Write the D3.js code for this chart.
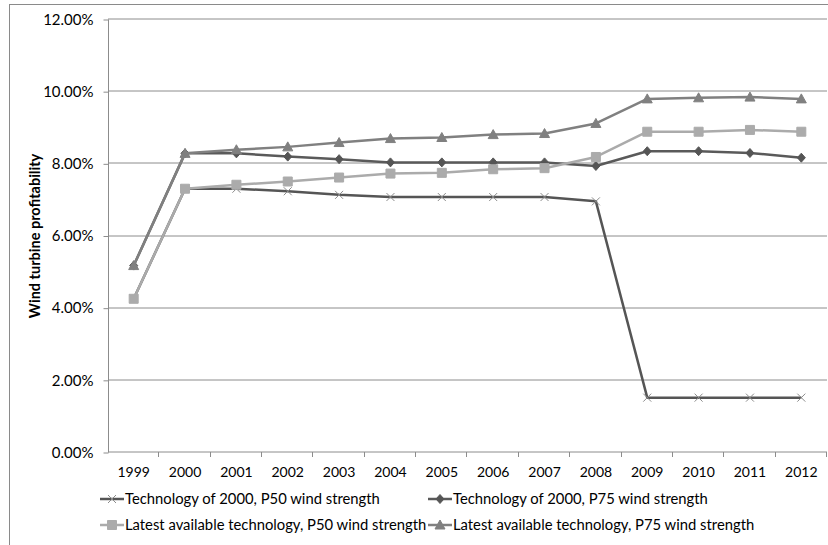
<!DOCTYPE html>
<meta charset='utf-8'>
<style>
    body {
        margin: 0;
        background: white;
    }
    text {
        font-family: Lato, 'Open Sans', sans-serif;
        fill: #000;
    }
</style>
<body>
<div id='chart'></div>
<script src='https://d3js.org/d3.v7.min.js'></script>
<script>
    // Data (profitability in %)
    const years = [ '1999', '2000', '2001', '2002', '2003', '2004', '2005', '2006', '2007', '2008', '2009', '2010', '2011', '2012' ];
    const tech2000P50 = [ 4.26, 7.31, 7.31, 7.24, 7.14, 7.08, 7.08, 7.08, 7.08, 6.96, 1.52, 1.52, 1.52, 1.52 ];
    const tech2000P75 = [ 5.18, 8.29, 8.29, 8.20, 8.13, 8.04, 8.04, 8.04, 8.04, 7.94, 8.35, 8.35, 8.30, 8.17 ];
    const latestP50 = [ 4.26, 7.31, 7.42, 7.51, 7.62, 7.73, 7.75, 7.85, 7.88, 8.19, 8.89, 8.89, 8.94, 8.89 ];
    const latestP75 = [ 5.18, 8.29, 8.39, 8.47, 8.59, 8.70, 8.73, 8.81, 8.84, 9.12, 9.80, 9.83, 9.85, 9.80 ];
    const yTicks = [ 0, 2, 4, 6, 8, 10, 12 ];

    const seriesNames = [
        'Technology of 2000, P50 wind strength',
        'Technology of 2000, P75 wind strength',
        'Latest available technology, P50 wind strength',
        'Latest available technology, P75 wind strength',
    ];

    const series = [
        { name: seriesNames[0], values: tech2000P50, line: '#555555', marker: 'x', fill: 'none', stroke: '#8c8c8c' },
        { name: seriesNames[1], values: tech2000P75, line: '#5a5a5a', marker: 'diamond', fill: '#555555', stroke: '#555555' },
        { name: seriesNames[2], values: latestP50, line: '#ababab', marker: 'square', fill: '#ababab', stroke: '#ababab' },
        { name: seriesNames[3], values: latestP75, line: '#808080', marker: 'triangle', fill: '#808080', stroke: '#808080' },
    ];

    const W = 828, H = 545;
    const margin = { top: 19.5, left: 108, right: 1, bottom: 92.5 };
    const width = W - margin.left - margin.right,
        height = H - margin.top - margin.bottom;

    const svg = d3.select( '#chart' )
        .append( 'svg' )
        .attr( 'width', W )
        .attr( 'height', H );

    // Outer chart frame (right/bottom edges run off the picture)
    svg.append( 'rect' )
        .attr( 'x', 9.5 )
        .attr( 'y', 4.5 )
        .attr( 'width', W + 20 )
        .attr( 'height', H + 20 )
        .style( 'fill', 'none' )
        .style( 'stroke', '#8a8a8a' );

    const g = svg.append( 'g' )
        .attr( 'transform', `translate( ${margin.left}, ${margin.top} )` );

    const xScale = d3.scaleBand()
        .domain( years )
        .range( [0, width] );

    const yScale = d3.scaleLinear()
        .domain( [0, 12] )
        .range( [height, 0] );

    // Horizontal gridlines
    g.append( 'g' )
        .selectAll( 'line' )
        .data( yTicks.filter( d => d > 0 ) )
        .enter().append( 'line' )
            .attr( 'x1', 0 )
            .attr( 'x2', width )
            .attr( 'y1', d => Math.round( yScale( d ) ) - 0.5 )
            .attr( 'y2', d => Math.round( yScale( d ) ) - 0.5 )
            .style( 'stroke', '#8c8c8c' );

    // Y axis
    const yAxis = d3.axisLeft( yScale )
        .tickValues( yTicks )
        .tickSize( 5 )
        .tickPadding( 10 )
        .tickFormat( d => d.toFixed( 2 ) + '%' );

    const yAxisEl = g.append( 'g' )
        .attr( 'transform', 'translate( 0.5, 0 )' )
        .call( yAxis );
    yAxisEl.select( '.domain' ).attr( 'd', `M0,0V${height}` );

    // X axis: ticks sit on the category boundaries
    const xAxisEl = g.append( 'g' )
        .attr( 'transform', `translate( 0, ${Math.round( height ) - 0.5} )` );

    xAxisEl.append( 'line' )
        .attr( 'x1', 0 )
        .attr( 'x2', width )
        .style( 'stroke', '#8c8c8c' );

    xAxisEl.selectAll( '.tick-mark' )
        .data( years )
        .enter().append( 'line' )
            .attr( 'class', 'tick-mark' )
            .attr( 'x1', d => Math.round( xScale( d ) + xScale.bandwidth() ) - 0.5 )
            .attr( 'x2', d => Math.round( xScale( d ) + xScale.bandwidth() ) - 0.5 )
            .attr( 'y1', 0 )
            .attr( 'y2', 5 )
            .style( 'stroke', '#8c8c8c' );

    xAxisEl.selectAll( '.year' )
        .data( years )
        .enter().append( 'text' )
            .attr( 'class', 'year' )
            .attr( 'x', d => xScale( d ) + xScale.bandwidth() / 2 )
            .attr( 'y', 25 )
            .attr( 'text-anchor', 'middle' )
            .style( 'font-size', '14px' )
            .text( d => d );

    g.selectAll( '.tick text' ).style( 'font-size', '15px' );
    g.selectAll( '.tick line, .domain' ).style( 'stroke', '#8c8c8c' );

    // Axis title
    svg.append( 'text' )
        .attr( 'transform', `translate( 40, ${margin.top + height / 2} ) rotate( -90 )` )
        .attr( 'text-anchor', 'middle' )
        .style( 'font-size', '14.5px' )
        .style( 'font-weight', 'bold' )
        .text( 'Wind turbine profitability' );

    // Marker shapes
    const markerPath = ( type ) => {
        if ( type === 'x' ) return 'M-4,-4L4,4M-4,4L4,-4';
        if ( type === 'diamond' ) return 'M0,-4.5L4,0L0,4.5L-4,0Z';
        if ( type === 'square' ) return 'M-4.5,-4.5H4.5V4.5H-4.5Z';
        return 'M0,-5L5,4H-5Z';
    };

    const line = d3.line()
        .x( ( d, i ) => xScale( years[ i ] ) + xScale.bandwidth() / 2 )
        .y( d => yScale( d ) );

    const lines = g.selectAll( '.series' )
        .data( series )
        .enter().append( 'g' )
            .attr( 'class', 'series' );

    lines.append( 'path' )
        .attr( 'd', d => line( d.values ) )
        .style( 'fill', 'none' )
        .style( 'stroke', d => d.line )
        .style( 'stroke-width', 2.5 )
        .style( 'stroke-linejoin', 'round' );

    lines.each( function( s ) {
        d3.select( this ).selectAll( '.marker' )
            .data( s.values )
            .enter().append( 'path' )
                .attr( 'class', 'marker' )
                .attr( 'transform', ( d, i ) => `translate( ${xScale( years[ i ] ) + xScale.bandwidth() / 2}, ${yScale( d )} )` )
                .attr( 'd', markerPath( s.marker ) )
                .style( 'fill', s.fill )
                .style( 'stroke', s.stroke )
                .style( 'stroke-width', 1 );
    } );

    // Legend: two columns, two rows
    const legendPos = [
        { x: 100, y: 499 },
        { x: 428, y: 499 },
        { x: 100, y: 525 },
        { x: 428, y: 525 },
    ];

    const legend = svg.selectAll( '.legend' )
        .data( series )
        .enter().append( 'g' )
            .attr( 'class', 'legend' )
            .attr( 'transform', ( d, i ) => `translate( ${legendPos[ i ].x}, ${legendPos[ i ].y} )` );

    legend.append( 'line' )
        .attr( 'x1', 0 )
        .attr( 'x2', 24 )
        .style( 'stroke', d => d.line )
        .style( 'stroke-width', 2.5 );

    legend.append( 'path' )
        .attr( 'transform', 'translate( 12, 0 )' )
        .attr( 'd', d => markerPath( d.marker ) )
        .style( 'fill', d => d.fill )
        .style( 'stroke', d => d.stroke );

    legend.append( 'text' )
        .attr( 'x', 25 )
        .attr( 'dy', '0.35em' )
        .style( 'font-size', '14.8px' )
        .text( d => d.name );
</script>
</body>
